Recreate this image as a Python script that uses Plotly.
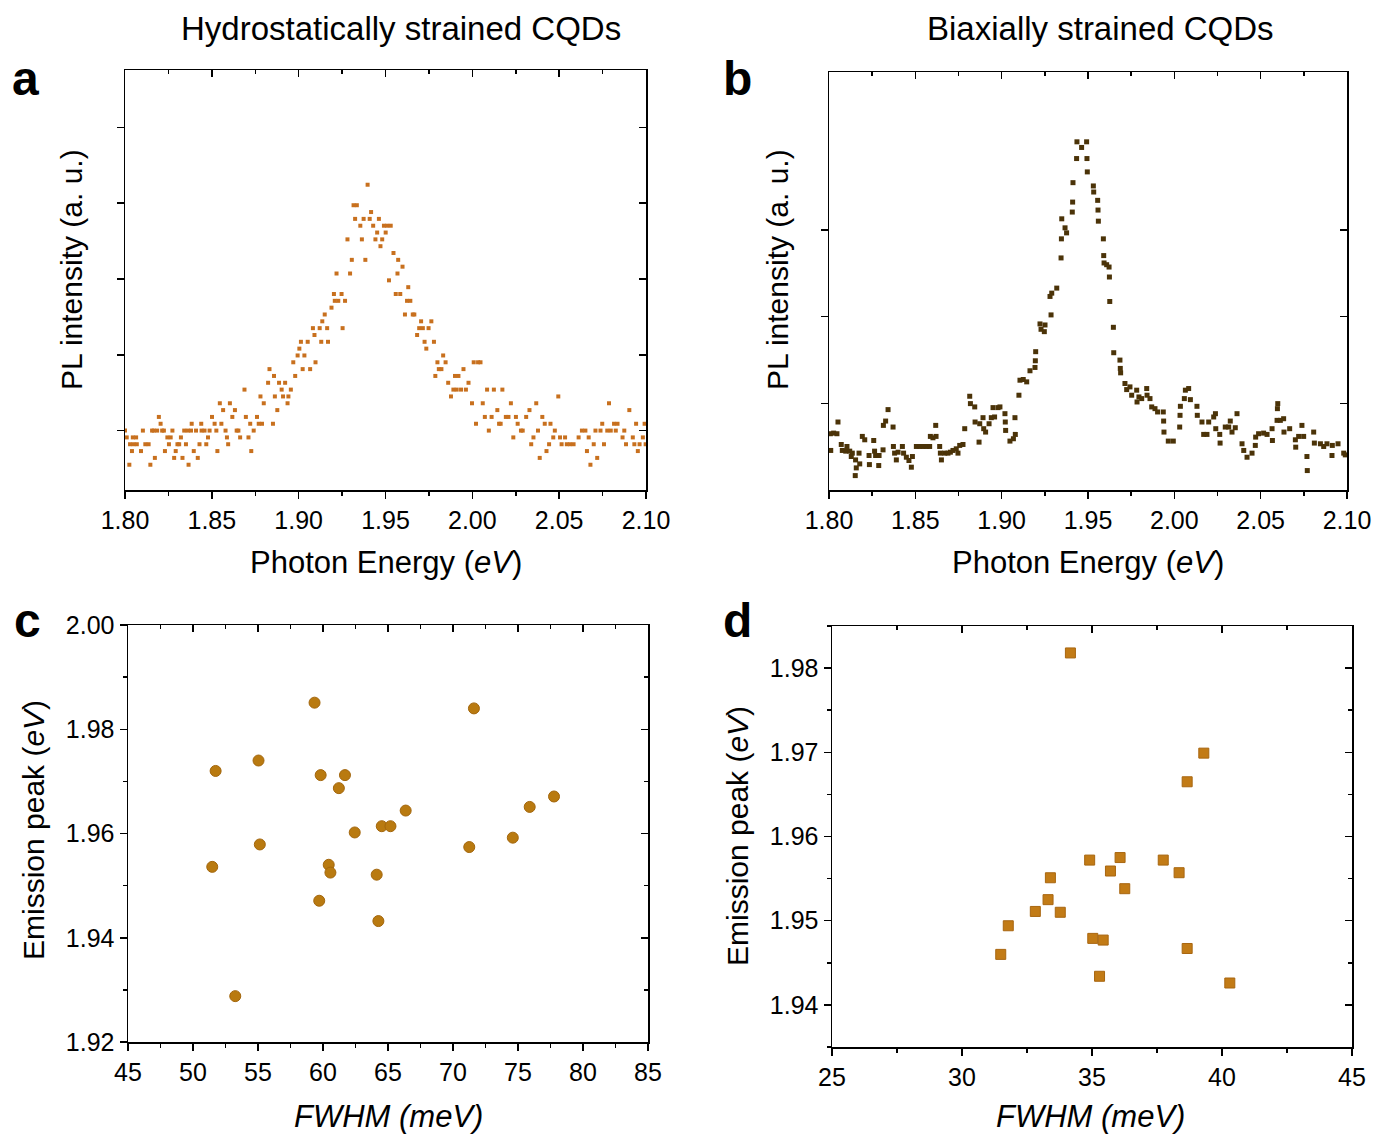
import plotly.graph_objects as go

# ---------------- data ----------------
# (a) PL spectrum, hydrostatically strained CQDs (arbitrary intensity units)
a_energy = [1.8000, 1.8010, 1.8025, 1.8029, 1.8040, 1.8045, 1.8049, 1.8064, 1.8068, 1.8092,
            1.8103, 1.8117, 1.8136, 1.8146, 1.8156, 1.8166, 1.8172, 1.8185, 1.8195, 1.8205,
            1.8214, 1.8224, 1.8230, 1.8244, 1.8253, 1.8263, 1.8273, 1.8283, 1.8292, 1.8302,
            1.8312, 1.8322, 1.8331, 1.8341, 1.8351, 1.8361, 1.8366, 1.8380, 1.8384, 1.8396,
            1.8409, 1.8419, 1.8429, 1.8439, 1.8441, 1.8458, 1.8468, 1.8478, 1.8487, 1.8501,
            1.8516, 1.8526, 1.8532, 1.8546, 1.8555, 1.8565, 1.8579, 1.8587, 1.8594, 1.8604,
            1.8618, 1.8633, 1.8643, 1.8653, 1.8663, 1.8688, 1.8696, 1.8711, 1.8721, 1.8727,
            1.8741, 1.8760, 1.8770, 1.8780, 1.8789, 1.8799, 1.8824, 1.8832, 1.8852, 1.8858,
            1.8863, 1.8877, 1.8887, 1.8902, 1.8910, 1.8922, 1.8936, 1.8941, 1.8955, 1.8969,
            1.8980, 1.8994, 1.9004, 1.9013, 1.9023, 1.9033, 1.9052, 1.9066, 1.9082, 1.9091,
            1.9097, 1.9121, 1.9130, 1.9136, 1.9150, 1.9164, 1.9169, 1.9189, 1.9203, 1.9208,
            1.9218, 1.9228, 1.9247, 1.9253, 1.9267, 1.9281, 1.9296, 1.9306, 1.9316, 1.9325,
            1.9335, 1.9355, 1.9364, 1.9374, 1.9384, 1.9397, 1.9409, 1.9417, 1.9429, 1.9442,
            1.9452, 1.9462, 1.9471, 1.9481, 1.9491, 1.9501, 1.9510, 1.9520, 1.9530, 1.9546,
            1.9559, 1.9569, 1.9573, 1.9585, 1.9598, 1.9612, 1.9624, 1.9631, 1.9643, 1.9657,
            1.9666, 1.9682, 1.9694, 1.9705, 1.9715, 1.9725, 1.9735, 1.9748, 1.9764, 1.9779,
            1.9787, 1.9799, 1.9807, 1.9822, 1.9832, 1.9846, 1.9861, 1.9877, 1.9891, 1.9900,
            1.9910, 1.9920, 1.9935, 1.9949, 1.9963, 1.9978, 1.9998, 2.0008, 2.0021, 2.0033,
            2.0047, 2.0060, 2.0072, 2.0085, 2.0095, 2.0111, 2.0124, 2.0144, 2.0154, 2.0163,
            2.0173, 2.0193, 2.0208, 2.0222, 2.0236, 2.0251, 2.0261, 2.0280, 2.0290, 2.0310,
            2.0329, 2.0339, 2.0352, 2.0368, 2.0378, 2.0388, 2.0403, 2.0417, 2.0427, 2.0442,
            2.0450, 2.0466, 2.0475, 2.0495, 2.0505, 2.0514, 2.0534, 2.0544, 2.0563, 2.0583,
            2.0612, 2.0631, 2.0651, 2.0660, 2.0670, 2.0680, 2.0699, 2.0709, 2.0719, 2.0738,
            2.0748, 2.0758, 2.0777, 2.0787, 2.0797, 2.0816, 2.0826, 2.0836, 2.0865, 2.0875,
            2.0885, 2.0904, 2.0924, 2.0933, 2.0943, 2.0953, 2.0963, 2.0982, 2.0992, 2.0998]
a_intensity = [0, -1, -5, -2, -3, -1, -2, -1, -2, -3,
               0, -2, -2, -5, 0, 0, -4, 0, 2, 1,
               0, 0, -3, -1, -2, -1, 0, -4, -3, -2,
               -2, -1, -4, 0, -2, 0, -5, 0, 1, -3,
               0, -4, -2, 1, 0, 0, -2, -1, 0, 2,
               1, 0, -3, 4, 1, 3, 0, -1, -2, 4,
               2, 3, 0, 0, -1, 6, 2, -1, 1, -3,
               0, 2, 1, 5, 1, 4, 7, 9, 1, 8,
               5, 3, 7, 6, 5, 7, 4, 5, 6, 10,
               8, 11, 12, 13, 9, 11, 13, 9, 15, 14,
               10, 15, 13, 16, 17, 15, 13, 18, 20, 19,
               23, 19, 20, 15, 19, 28, 23, 25, 33, 31,
               33, 30, 28, 31, 25, 36, 31, 32, 30, 28,
               29, 31, 27, 28, 30, 29, 30, 22, 30, 26,
               20, 23, 25, 20, 24, 17, 19, 21, 19, 17,
               17, 14, 15, 16, 15, 13, 12, 15, 16, 13,
               8, 10, 9, 9, 11, 10, 7, 5, 6, 8,
               6, 8, 6, 9, 6, 7, 4, 10, 1, 10,
               10, 4, 2, 6, 0, 2, 6, 3, 1, 1,
               6, 2, 2, 4, -1, 2, 1, 0, 0, 2,
               3, -2, -1, 4, 0, -4, 2, 1, -3, -2,
               1, -1, 0, 5, -1, -2, -1, -2, -2, -2,
               -1, 0, 0, -3, -1, -5, -2, 0, -4, 0,
               1, -2, 0, 4, 0, 1, 0, 1, -1, 0,
               -2, 3, -1, -2, 1, -3, -2, -1, 1, -2]

# (b) PL spectrum, biaxially strained CQDs (arbitrary intensity units)
b_energy = [1.8008, 1.8010, 1.8027, 1.8046, 1.8052, 1.8071, 1.8077, 1.8097, 1.8104, 1.8120,
            1.8129, 1.8135, 1.8152, 1.8154, 1.8158, 1.8174, 1.8178, 1.8193, 1.8207, 1.8232,
            1.8234, 1.8259, 1.8264, 1.8270, 1.8288, 1.8290, 1.8313, 1.8315, 1.8328, 1.8342,
            1.8371, 1.8373, 1.8380, 1.8390, 1.8400, 1.8425, 1.8432, 1.8448, 1.8463, 1.8477,
            1.8483, 1.8506, 1.8525, 1.8544, 1.8564, 1.8583, 1.8587, 1.8602, 1.8618, 1.8620,
            1.8641, 1.8645, 1.8651, 1.8670, 1.8689, 1.8703, 1.8718, 1.8737, 1.8747, 1.8757,
            1.8776, 1.8786, 1.8815, 1.8819, 1.8844, 1.8846, 1.8869, 1.8873, 1.8892, 1.8896,
            1.8907, 1.8927, 1.8940, 1.8950, 1.8959, 1.8979,
            1.8990, 1.9019, 1.9021, 1.9023, 1.9048, 1.9068, 1.9077, 1.9079, 1.9100, 1.9106,
            1.9125, 1.9145, 1.9164, 1.9193, 1.9195, 1.9197, 1.9222, 1.9228, 1.9247, 1.9251,
            1.9280, 1.9286, 1.9290, 1.9319, 1.9344, 1.9346, 1.9348, 1.9367, 1.9376, 1.9409,
            1.9411, 1.9413, 1.9434, 1.9436, 1.9463, 1.9492, 1.9494, 1.9496, 1.9531, 1.9533,
            1.9556, 1.9558, 1.9560, 1.9589, 1.9591, 1.9593, 1.9608, 1.9622, 1.9624, 1.9626,
            1.9647, 1.9649, 1.9685, 1.9687, 1.9689, 1.9714, 1.9724, 1.9743, 1.9753, 1.9782,
            1.9784, 1.9795, 1.9811, 1.9840, 1.9842, 1.9859, 1.9869, 1.9888, 1.9903, 1.9936,
            1.9938, 1.9940, 1.9965, 1.9994,
            2.0031, 2.0033, 2.0035, 2.0058, 2.0064, 2.0083, 2.0093, 2.0131, 2.0133, 2.0160,
            2.0170, 2.0189, 2.0199, 2.0228, 2.0238, 2.0240, 2.0263, 2.0265, 2.0295, 2.0315,
            2.0324, 2.0334, 2.0353, 2.0363, 2.0392, 2.0402, 2.0421, 2.0450, 2.0469, 2.0471,
            2.0488, 2.0517, 2.0537, 2.0566, 2.0568, 2.0595, 2.0597, 2.0599, 2.0614, 2.0633,
            2.0635, 2.0668, 2.0701, 2.0703, 2.0720, 2.0739, 2.0749, 2.0768, 2.0770, 2.0807,
            2.0811, 2.0846, 2.0865, 2.0884, 2.0913, 2.0915, 2.0948, 2.0981, 2.0990]
b_intensity = [6.49, 4.56, 6.56, 6.49, 7.84, 5.25, 4.56, 4.48, 5.02, 4.48,
               3.86, 4.25, 1.66, 3.47, 2.55, 4.25, 3.01, 6.18, 5.79, 3.98,
               2.93, 5.71, 4.48, 3.98, 2.82, 3.98, 4.63, 7.45, 7.95, 9.27,
               7.26, 5.02, 4.25, 3.47, 4.36, 5.02, 4.25, 3.78, 3.40, 2.63,
               3.86, 5.02, 5.02, 5.02, 5.02, 5.02, 6.18, 6.02, 7.45, 6.18,
               5.02, 4.25, 3.47, 4.25, 4.25, 4.36, 4.56, 4.75, 4.25, 5.14,
               5.25, 7.07, 10.81, 9.96, 9.58, 7.84, 5.52, 7.64, 8.34, 7.07,
               6.68, 7.64, 8.34, 9.50, 8.42, 9.50,
               9.58, 8.80, 7.84, 6.87, 5.64, 5.91, 8.34, 6.41, 10.93, 12.66,
               12.74, 12.47, 13.75, 14.13, 14.90, 15.95, 19.15, 18.53, 18.26, 19.03,
               22.32, 20.19, 22.70, 23.28, 26.76, 28.96, 31.27, 30.23, 29.65, 32.05,
               33.20, 35.44, 38.22, 40.15, 39.50, 40.15, 38.22, 36.68, 35.06, 34.36,
               33.40, 32.28, 31.00, 28.96, 27.03, 26.18, 25.98, 25.71, 24.56, 21.74,
               18.76, 15.83, 14.98, 14.02, 13.51, 12.28, 11.58, 11.89, 10.93, 11.51,
               10.15, 10.73, 10.54, 11.70, 10.93, 10.54, 9.58, 9.38, 9.00, 9.00,
               7.95, 6.68, 5.64, 5.64,
               7.26, 8.61, 9.65, 10.54, 11.51, 11.70, 10.42, 9.65, 8.61, 7.84,
               6.41, 6.41, 7.84, 8.42, 8.80, 7.07, 6.41, 5.41, 7.26, 7.26,
               7.95, 6.68, 7.18, 8.80, 5.33, 4.56, 3.78, 4.25, 5.14, 6.10,
               6.49, 6.56, 6.41, 7.07, 5.71, 8.03, 9.38, 9.96, 8.03, 8.22,
               6.68, 7.07, 5.79, 4.94, 6.18, 7.45, 6.18, 3.86, 2.24, 6.68,
               5.41, 5.33, 5.02, 5.33, 3.98, 5.14, 5.33, 4.25, 4.05]

# (c) Emission peak vs FWHM, hydrostatically strained CQDs
c_fwhm = [59.35, 71.61, 51.74, 55.04, 59.82, 61.69, 61.22, 66.36, 77.77, 75.90,
          64.52, 65.19, 62.44, 74.60, 55.14, 71.25, 51.48, 60.44, 60.57, 64.13,
          59.71, 64.26, 53.25]
c_peak = [1.9851, 1.9840, 1.9720, 1.9740, 1.9712, 1.9712, 1.9687, 1.9644, 1.9671, 1.9651,
          1.9614, 1.9614, 1.9602, 1.9592, 1.9579, 1.9574, 1.9536, 1.9540, 1.9525, 1.9521,
          1.9471, 1.9432, 1.9288]

# (d) Emission peak vs FWHM, biaxially strained CQDs
d_fwhm = [34.17, 39.30, 38.66, 34.91, 36.08, 37.74, 35.71, 38.35, 33.40, 36.26,
          33.31, 32.82, 33.78, 31.78, 35.03, 35.43, 31.49, 38.66, 35.29, 40.30]
d_peak = [1.9818, 1.9699, 1.9665, 1.9572, 1.9575, 1.9572, 1.9559, 1.9557, 1.9551, 1.9538,
          1.9525, 1.9511, 1.9510, 1.9494, 1.9479, 1.9477, 1.9460, 1.9467, 1.9434, 1.9426]

# tick positions of the unlabelled intensity axes
a_yticks = [0, 11.1, 22.2, 33.3, 44.4]
b_yticks = [10, 20, 30]

# ---------------- layout helpers ----------------
W, H = 1376, 1138
FONT = "Liberation Sans, Arial, Helvetica, sans-serif"


def dom_x(p0, p1):
    return [p0 / W, p1 / W]


def dom_y(p0, p1):
    return [1 - p1 / H, 1 - p0 / H]


panels = [
    dict(xd=dom_x(125, 646), yd=dom_y(70, 490), xr=[1.80, 2.10], yr=[-8.7, 52.8],
         xt=dict(tick0=1.8, dtick=0.05, tickformat=".2f"), xm=0.025,
         yt=dict(tickmode="array", tickvals=a_yticks), ym=None, ylab=False),
    dict(xd=dom_x(829, 1347), yd=dom_y(72, 490), xr=[1.80, 2.10], yr=[0, 48.2],
         xt=dict(tick0=1.8, dtick=0.05, tickformat=".2f"), xm=0.025,
         yt=dict(tickmode="array", tickvals=b_yticks), ym=None, ylab=False),
    dict(xd=dom_x(128, 648), yd=dom_y(625, 1042), xr=[45, 85], yr=[1.92, 2.00],
         xt=dict(tick0=45, dtick=5), xm=2.5,
         yt=dict(tick0=1.92, dtick=0.02, tickformat=".2f"), ym=0.01, ylab=True),
    dict(xd=dom_x(832, 1352), yd=dom_y(626, 1047), xr=[25, 45], yr=[1.935, 1.985],
         xt=dict(tick0=25, dtick=5), xm=2.5,
         yt=dict(tick0=1.94, dtick=0.01, tickformat=".2f"), ym=0.005, ylab=True),
]

tickfont = dict(family=FONT, size=25, color="black")
common = dict(showgrid=False, zeroline=False, showline=True, linecolor="black",
              linewidth=1.5, tickcolor="black", tickwidth=1.5, ticklen=7,
              automargin=False, ticklabeloverflow="allow")

layout = dict(template="none", width=W, height=H,
              margin=dict(l=0, r=0, t=0, b=0, pad=0, autoexpand=False),
              paper_bgcolor="white", plot_bgcolor="white", showlegend=False,
              font=dict(family=FONT, color="black"), hovermode=False)

for i, p in enumerate(panels):
    n = i + 1
    on = i + 5
    xs = "" if n == 1 else str(n)
    ys = xs
    # main bottom / left axes (outside ticks, labelled)
    xa = dict(domain=p["xd"], range=p["xr"], anchor="y" + ys, side="bottom",
              ticks="outside", tickfont=tickfont, **common, **p["xt"])
    xa["minor"] = dict(ticks="outside", ticklen=4, tickwidth=1.5, tickcolor="black", dtick=p["xm"])
    ya = dict(domain=p["yd"], range=p["yr"], anchor="x" + xs, side="left",
              ticks="outside", tickfont=tickfont, showticklabels=p["ylab"], **common, **p["yt"])
    if p["ym"]:
        ya["minor"] = dict(ticks="outside", ticklen=4, tickwidth=1.5, tickcolor="black", dtick=p["ym"])
    # mirror top / right axes (inside ticks, unlabelled)
    xo = dict(overlaying="x" + xs, range=p["xr"], anchor="y%d" % on, side="top",
              ticks="inside", showticklabels=False, **common, **p["xt"])
    xo["minor"] = dict(ticks="inside", ticklen=4, tickwidth=1.5, tickcolor="black", dtick=p["xm"])
    yo = dict(overlaying="y" + ys, range=p["yr"], anchor="x%d" % on, side="right",
              ticks="inside", showticklabels=False, **common, **p["yt"])
    if p["ym"]:
        yo["minor"] = dict(ticks="inside", ticklen=4, tickwidth=1.5, tickcolor="black", dtick=p["ym"])
    layout["xaxis" + xs] = xa
    layout["yaxis" + ys] = ya
    layout["xaxis%d" % on] = xo
    layout["yaxis%d" % on] = yo

fig = go.Figure()

fig.add_trace(go.Scatter(x=a_energy, y=a_intensity, mode="markers", xaxis="x", yaxis="y",
                         marker=dict(symbol="square", size=4, color="#c8701e")))
fig.add_trace(go.Scatter(x=b_energy, y=b_intensity, mode="markers", xaxis="x2", yaxis="y2",
                         marker=dict(symbol="square", size=5, color="#4b3308")))
fig.add_trace(go.Scatter(x=c_fwhm, y=c_peak, mode="markers", xaxis="x3", yaxis="y3",
                         marker=dict(symbol="circle", size=11, color="#b97a10",
                                     line=dict(width=1, color="#a3660c"))))
fig.add_trace(go.Scatter(x=d_fwhm, y=d_peak, mode="markers", xaxis="x4", yaxis="y4",
                         marker=dict(symbol="square", size=10, color="#c27b16",
                                     line=dict(width=1, color="#a86610"))))
# empty traces so the mirror axes are drawn
for k in range(5, 9):
    fig.add_trace(go.Scatter(x=[], y=[], xaxis="x%d" % k, yaxis="y%d" % k,
                             mode="markers", hoverinfo="skip"))


def ann(text, x, y, size, angle=0):
    return dict(text=text, x=x / W, y=1 - y / H, xref="paper", yref="paper",
                xanchor="center", yanchor="middle", showarrow=False, textangle=angle,
                font=dict(family=FONT, size=size, color="black"))


annotations = [
    ann("Hydrostatically strained CQDs", 401, 28, 33),
    ann("Biaxially strained CQDs", 1100, 28, 33),
    ann("<b>a</b>", 25, 78, 48),
    ann("<b>b</b>", 738, 78, 48),
    ann("<b>c</b>", 27, 620, 48),
    ann("<b>d</b>", 737, 620, 48),
    ann("Photon Energy (<i>eV</i>)", 386, 563, 31),
    ann("Photon Energy (<i>eV</i>)", 1088, 563, 31),
    ann("PL intensity (a. u.)", 72, 270, 30, -90),
    ann("PL intensity (a. u.)", 778, 270, 30, -90),
    ann("<i>FWHM (meV)</i>", 388, 1116, 31),
    ann("<i>FWHM (meV)</i>", 1090, 1116, 31),
    ann("Emission peak (<i>eV</i>)", 33, 830, 30, -90),
    ann("Emission peak (<i>eV</i>)", 737, 836, 30, -90),
]
layout["annotations"] = annotations

fig.update_layout(**layout)
# remove the default page margin so the figure fills the window exactly,
# and hide the interactive mode bar
fig.write_html("out.html",
               config={"displayModeBar": False, "staticPlot": True},
               post_script="document.body.style.margin='0';document.body.style.overflow='hidden';")
